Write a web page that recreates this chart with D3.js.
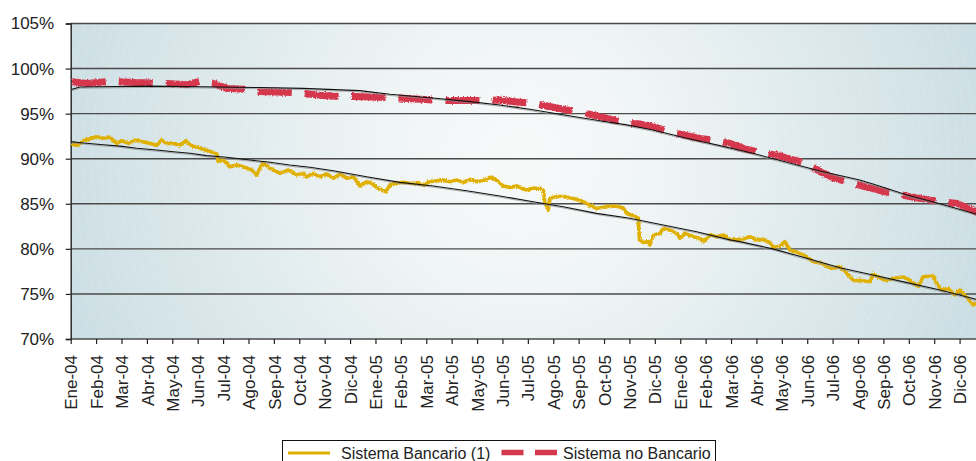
<!DOCTYPE html>
<html>
<head>
<meta charset="utf-8">
<script src="https://cdn.jsdelivr.net/npm/d3@7"></script>
<style>
  html, body { margin: 0; padding: 0; background: #fff; }
  svg { display: block; font-family: "Liberation Sans", Arial, sans-serif; }
</style>
</head>
<body>
<svg id="chart" width="976" height="461"></svg>
<script>
// Month labels for the x axis (Ene-04 ... Dic-06)
const months = ["Ene","Feb","Mar","Abr","May","Jun","Jul","Ago","Sep","Oct","Nov","Dic"];
const years = ["04","05","06"];
const tickLabels = years.flatMap(y => months.map(m => `${m}-${y}`));

// Y axis ticks (percent)
const yTicks = [70, 75, 80, 85, 90, 95, 100, 105];

// Series: [months since Ene-04, percent]
const bancario = [
  [0.04,91.63],[0.24,91.5],[0.50,92.0],[0.69,92.15],[1.02,92.44],[1.28,92.27],[1.55,92.38],
  [1.81,91.7],[2.01,92.0],[2.27,91.7],[2.53,92.07],[2.80,91.9],[3.12,91.7],[3.39,91.5],
  [3.58,92.07],[3.78,91.7],[4.04,91.7],[4.30,91.5],[4.54,92.0],[4.76,91.4],[5.02,91.27],
  [5.22,91.05],[5.48,90.8],[5.68,90.67],[5.76,90.5],[5.81,89.67],[6.01,89.86],[6.27,89.1],
  [6.54,89.3],[6.80,89.1],[7.13,88.75],[7.32,88.2],[7.56,89.56],[7.85,88.94],[8.24,88.38],
  [8.57,88.75],[8.90,88.2],[9.16,88.38],[9.29,88.0],[9.55,88.38],[9.81,88.0],[10.08,88.3],
  [10.34,87.83],[10.60,88.3],[10.87,87.83],[11.13,88.0],[11.39,86.97],[11.65,87.45],
  [11.85,87.27],[12.11,86.7],[12.41,86.34],[12.57,87.08],[12.83,87.27],[13.09,87.38],
  [13.36,87.27],[13.62,87.27],[13.88,87.08],[14.15,87.45],[14.41,87.56],[14.67,87.64],
  [14.93,87.45],[15.20,87.64],[15.46,87.38],[15.72,87.71],[15.98,87.45],[16.24,87.56],
  [16.51,87.94],[16.77,87.64],[17.03,86.97],[17.29,86.82],[17.56,86.97],[17.95,86.53],
  [18.21,86.72],[18.48,86.72],[18.61,86.5],[18.67,85.2],[18.80,84.3],[18.87,85.6],
  [19.13,85.8],[19.39,85.8],[19.79,85.6],[20.18,85.23],[20.44,84.86],[20.71,84.5],
  [21.10,84.68],[21.50,84.75],[21.76,84.5],[21.89,83.95],[22.15,83.65],[22.35,83.4],
  [22.39,81.0],[22.54,80.7],[22.74,80.8],[22.81,80.43],[22.94,81.54],[23.20,81.7],
  [23.33,82.27],[23.59,82.09],[23.86,81.72],[23.99,81.17],[24.18,81.72],[24.51,81.35],
  [24.78,81.17],[24.91,80.8],[25.17,81.54],[25.43,81.35],[25.69,81.54],[25.96,81.06],
  [26.22,81.0],[26.48,81.06],[26.74,81.35],[27.01,81.0],[27.27,81.06],[27.53,80.7],
  [27.66,80.17],[27.92,80.3],[28.12,80.8],[28.32,79.87],[28.71,79.5],[28.98,79.13],
  [29.24,78.58],[29.57,78.4],[29.96,77.84],[30.29,78.0],[30.56,77.3],[30.82,76.47],
  [31.08,76.5],[31.48,76.36],[31.60,77.2],[31.80,76.9],[32.06,76.5],[32.39,76.7],
  [32.78,76.9],[33.04,76.5],[33.37,75.8],[33.56,76.9],[33.96,76.99],[34.09,76.2],
  [34.29,75.43],[34.55,75.6],[34.81,74.85],[35.01,75.43],[35.27,74.7],[35.53,73.8],
  [35.70,73.9]
];

const noBancario = [
  [0.05,98.55],[0.64,98.35],[1.39,98.55],[1.86,98.55],[2.53,98.45],[3.20,98.4],
  [3.79,98.35],[4.59,98.2],[5.17,98.65],[5.60,98.35],[6.15,97.8],[6.82,97.7],
  [7.42,97.45],[8.09,97.4],[8.75,97.35],[9.30,97.2],[9.93,97.0],[10.56,96.9],
  [11.19,96.9],[11.82,96.85],[12.45,96.8],[13.08,96.7],[13.75,96.6],[14.42,96.5],
  [15.01,96.45],[15.64,96.45],[16.23,96.45],[16.90,96.5],[17.57,96.3],[18.20,96.15],
  [18.75,95.85],[19.38,95.5],[19.97,95.2],[20.56,94.85],[21.23,94.4],[21.82,93.95],
  [22.41,93.85],[23.00,93.5],[23.59,93.0],[24.18,92.6],[24.78,92.25],[25.37,92.05],
  [25.96,91.7],[26.55,91.1],[27.26,90.6],[27.81,90.4],[28.40,89.9],[28.99,89.5],
  [29.50,88.55],[30.09,87.8],[30.76,87.3],[31.35,86.85],[31.94,86.4],[32.53,86.1],
  [33.04,85.8],[33.63,85.5],[34.14,85.25],[34.89,85.05],[35.64,84.1],[36.0,83.9]
];

// Trend lines
const trendNoBancario = [
  [0.05,97.7],[0.37,97.95],[3.12,98.05],[7.45,97.9],[9.15,97.8],[11.39,97.55],
  [12.57,97.15],[14.15,96.77],[15.72,96.33],[16.90,95.96],[18.08,95.48],[19.26,94.93],
  [20.84,94.22],[21.90,93.75],[22.93,93.18],[24.26,92.27],[25.56,91.45],[26.86,90.6],
  [28.20,89.6],[29.50,88.64],[31.07,87.64],[31.59,87.2],[32.93,85.97],[34.23,85.0],
  [35.64,83.87],[36.0,83.6]
];
const trendBancario = [
  [0.0,91.9],[0.5,91.75],[1.28,91.55],[1.94,91.4],[2.60,91.16],[3.39,90.96],[4.04,90.78],
  [4.70,90.6],[5.35,90.34],[6.14,90.16],[7.06,89.86],[7.85,89.6],[8.63,89.3],[9.42,89.05],
  [10.34,88.67],[11.65,88.0],[12.96,87.38],[14.28,86.97],[15.59,86.45],[16.90,85.86],
  [18.21,85.23],[19.39,84.68],[20.71,83.94],[22.02,83.4],[23.33,82.65],[24.65,81.9],
  [25.96,81.0],[26.35,80.8],[27.65,80.0],[28.99,78.95],[30.29,77.9],[31.59,77.1],
  [32.93,76.25],[34.23,75.43],[35.64,74.4],[36.0,74.15]
];

const seriesNames = ["Sistema Bancario (1)", "Sistema no Bancario"];
const colors = { bancario: "#E0B000", noBancario: "#D5394D", trend: "#111" };

const svg = d3.select("#chart");
const plot = { left: 70.7, top: 23.5, bottom: 339, right: 976 };

const x = d3.scaleLinear().domain([0, 36]).range([plot.left, 985]);
const y = d3.scaleLinear().domain([70, 105]).range([plot.bottom, plot.top]);

const defs = svg.append("defs");

// Soft radial background
const grad = defs.append("radialGradient")
  .attr("id", "bg").attr("gradientUnits", "userSpaceOnUse")
  .attr("cx", 520).attr("cy", 160).attr("r", 480);
grad.append("stop").attr("offset", 0).attr("stop-color", "#f8fafa");
grad.append("stop").attr("offset", 0.3).attr("stop-color", "#eff4f5");
grad.append("stop").attr("offset", 1).attr("stop-color", "#cbdee3");

defs.append("clipPath").attr("id", "plotClip")
  .append("rect")
  .attr("x", plot.left).attr("y", plot.top)
  .attr("width", plot.right - plot.left).attr("height", plot.bottom - plot.top);

// Roughen the thick data lines a little
const rough = defs.append("filter").attr("id", "rough")
  .attr("x", "-2%").attr("y", "-20%").attr("width", "104%").attr("height", "140%");
rough.append("feTurbulence").attr("type", "fractalNoise")
  .attr("baseFrequency", "0.8").attr("numOctaves", 1).attr("seed", 3).attr("result", "n");
rough.append("feDisplacementMap").attr("in", "SourceGraphic").attr("in2", "n")
  .attr("scale", 3.5).attr("xChannelSelector", "R").attr("yChannelSelector", "G");

svg.append("rect")
  .attr("x", plot.left).attr("y", plot.top)
  .attr("width", plot.right - plot.left).attr("height", plot.bottom - plot.top)
  .attr("fill", "url(#bg)");

// Faint dashed concentric arcs in the background
const arcs = svg.append("g").attr("clip-path", "url(#plotClip)");
arcs.selectAll("circle").data(d3.range(14, 720, 9)).join("circle")
  .attr("cx", 520).attr("cy", 160).attr("r", d => d)
  .attr("fill", "none").attr("stroke", "#fff")
  .attr("stroke-opacity", 0.3).attr("stroke-width", 0.8)
  .attr("stroke-dasharray", "3,3");

// Horizontal gridlines
svg.append("g").selectAll("line").data(yTicks).join("line")
  .attr("x1", plot.left).attr("x2", plot.right)
  .attr("y1", d => y(d)).attr("y2", d => y(d))
  .attr("stroke", "#4a4a4a").attr("stroke-width", 1.4);

// Axes
const yAxis = svg.append("g")
  .attr("transform", `translate(${plot.left},0)`)
  .call(d3.axisLeft(y).tickValues(yTicks).tickSize(5).tickPadding(11.5)
    .tickFormat(d => d + "%"));
yAxis.select(".domain").attr("stroke", "#222").attr("stroke-width", 1.4);
yAxis.selectAll(".tick line").attr("stroke", "#222").attr("stroke-width", 1.2);
yAxis.selectAll("text").attr("font-size", 17).attr("fill", "#222")
  .attr("font-family", "Liberation Sans, Arial, sans-serif");

const xAxis = svg.append("g")
  .attr("transform", `translate(0,${plot.bottom})`)
  .call(d3.axisBottom(x).tickValues(d3.range(36)).tickSize(5)
    .tickFormat(i => tickLabels[i]));
xAxis.select(".domain").remove();
xAxis.selectAll(".tick line").attr("stroke", "#222").attr("stroke-width", 1.2);
xAxis.selectAll("text")
  .attr("font-size", 17).attr("fill", "#222")
  .attr("font-family", "Liberation Sans, Arial, sans-serif")
  .attr("transform", "rotate(-90)")
  .attr("x", -16).attr("y", 0).attr("dy", "0.36em")
  .style("text-anchor", "end");

// Data lines
const line = d3.line().x(d => x(d[0])).y(d => y(d[1]));
const lines = svg.append("g").attr("clip-path", "url(#plotClip)");

lines.append("path").datum(bancario)
  .attr("d", line).attr("fill", "none")
  .attr("stroke", colors.bancario).attr("stroke-width", 3.6)
  .attr("stroke-linejoin", "round")
  .attr("filter", "url(#rough)");

lines.append("path").datum(noBancario)
  .attr("d", line).attr("fill", "none")
  .attr("stroke", colors.noBancario).attr("stroke-width", 7)
  .attr("stroke-dasharray", "34,13")
  .attr("filter", "url(#rough)");

// Trend lines with a faint grey shadow
[trendBancario, trendNoBancario].forEach(t => {
  lines.append("path").datum(t)
    .attr("d", line).attr("fill", "none")
    .attr("transform", "translate(0,1.2)")
    .attr("stroke", "#8a8a8a").attr("stroke-opacity", 0.7).attr("stroke-width", 1);
  lines.append("path").datum(t)
    .attr("d", line).attr("fill", "none")
    .attr("stroke", colors.trend).attr("stroke-width", 1.1);
});

// Legend
const lg = svg.append("g");
lg.append("rect").attr("x", 282.5).attr("y", 440.5).attr("width", 433).attr("height", 40)
  .attr("fill", "#fff").attr("stroke", "#111").attr("stroke-width", 1);
lg.append("line").attr("x1", 288).attr("x2", 330).attr("y1", 453).attr("y2", 453)
  .attr("stroke", colors.bancario).attr("stroke-width", 3);
lg.append("text").attr("x", 341).attr("y", 458.5).attr("font-size", 16).attr("fill", "#222")
  .text(seriesNames[0]);
lg.append("line").attr("x1", 501.5).attr("x2", 557).attr("y1", 452.5).attr("y2", 452.5)
  .attr("stroke", colors.noBancario).attr("stroke-width", 5.5)
  .attr("stroke-dasharray", "22,11.5");
lg.append("text").attr("x", 563).attr("y", 458.5).attr("font-size", 16).attr("fill", "#222")
  .text(seriesNames[1]);
</script>
</body>
</html>
